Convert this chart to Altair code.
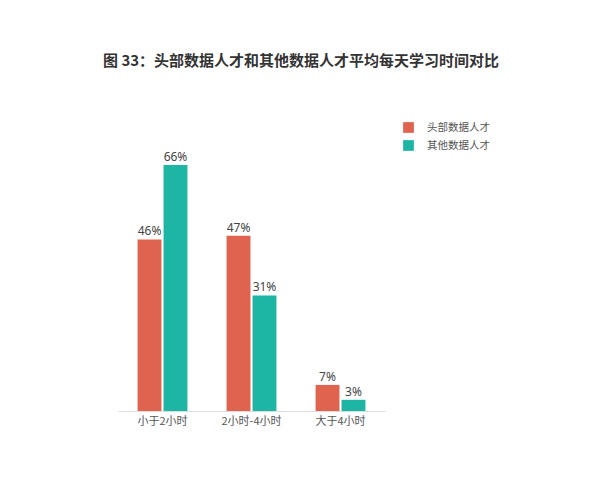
import altair as alt
import pandas as pd

categories = ["小于2小时", "2小时-4小时", "大于4小时"]
series = ["头部数据人才", "其他数据人才"]
top_vals = [46, 47, 7]
other_vals = [66, 31, 3]
colors = ["#E0634F", "#1DB5A3"]

rows = []
for i, c in enumerate(categories):
    rows.append({"cat": c, "series": series[0], "value": top_vals[i]})
    rows.append({"cat": c, "series": series[1], "value": other_vals[i]})
df = pd.DataFrame(rows)

base = alt.Chart(df).encode(
    x=alt.X("cat:N", sort=categories,
            scale=alt.Scale(paddingInner=0.44, paddingOuter=0.22),
            axis=alt.Axis(title=None, labelAngle=0, ticks=False, domainColor="#dddddd",
                          labelFontSize=11, labelColor="#555555", labelPadding=4,
                          labelFont="Noto Sans CJK SC")),
    xOffset=alt.XOffset("series:N", sort=series, scale=alt.Scale(paddingInner=0.08)),
    y=alt.Y("value:Q", scale=alt.Scale(domain=[0, 70]), axis=None),
)

bars = base.mark_bar().encode(
    color=alt.Color("series:N", sort=series,
                    scale=alt.Scale(domain=series, range=colors),
                    legend=alt.Legend(title=None, orient="none", legendX=285, legendY=-28,
                                      symbolType="square", symbolSize=115,
                                      symbolStrokeWidth=0, labelFontSize=10.5,
                                      labelColor="#555555", labelFont="Noto Sans CJK SC",
                                      rowPadding=7, labelOffset=13)),
)

labels = base.mark_text(dy=-8, fontSize=12, color="#444444", font="Noto Sans").encode(
    text=alt.Text("label:N")
).transform_calculate(label="datum.value + '%'")

chart = (bars + labels).properties(
    width=267,
    height=261,
    padding={"left": 95, "top": 46, "right": 5, "bottom": 5},
    background="white",
    title=alt.TitleParams(
        text="图 33：头部数据人才和其他数据人才平均每天学习时间对比",
        anchor="start", dx=-15, offset=53, fontSize=15, fontWeight="bold",
        color="#333333", font="Noto Sans CJK SC",
    ),
).configure_view(stroke=None)

chart.save("out.html", embed_options={"renderer": "svg", "actions": False})
